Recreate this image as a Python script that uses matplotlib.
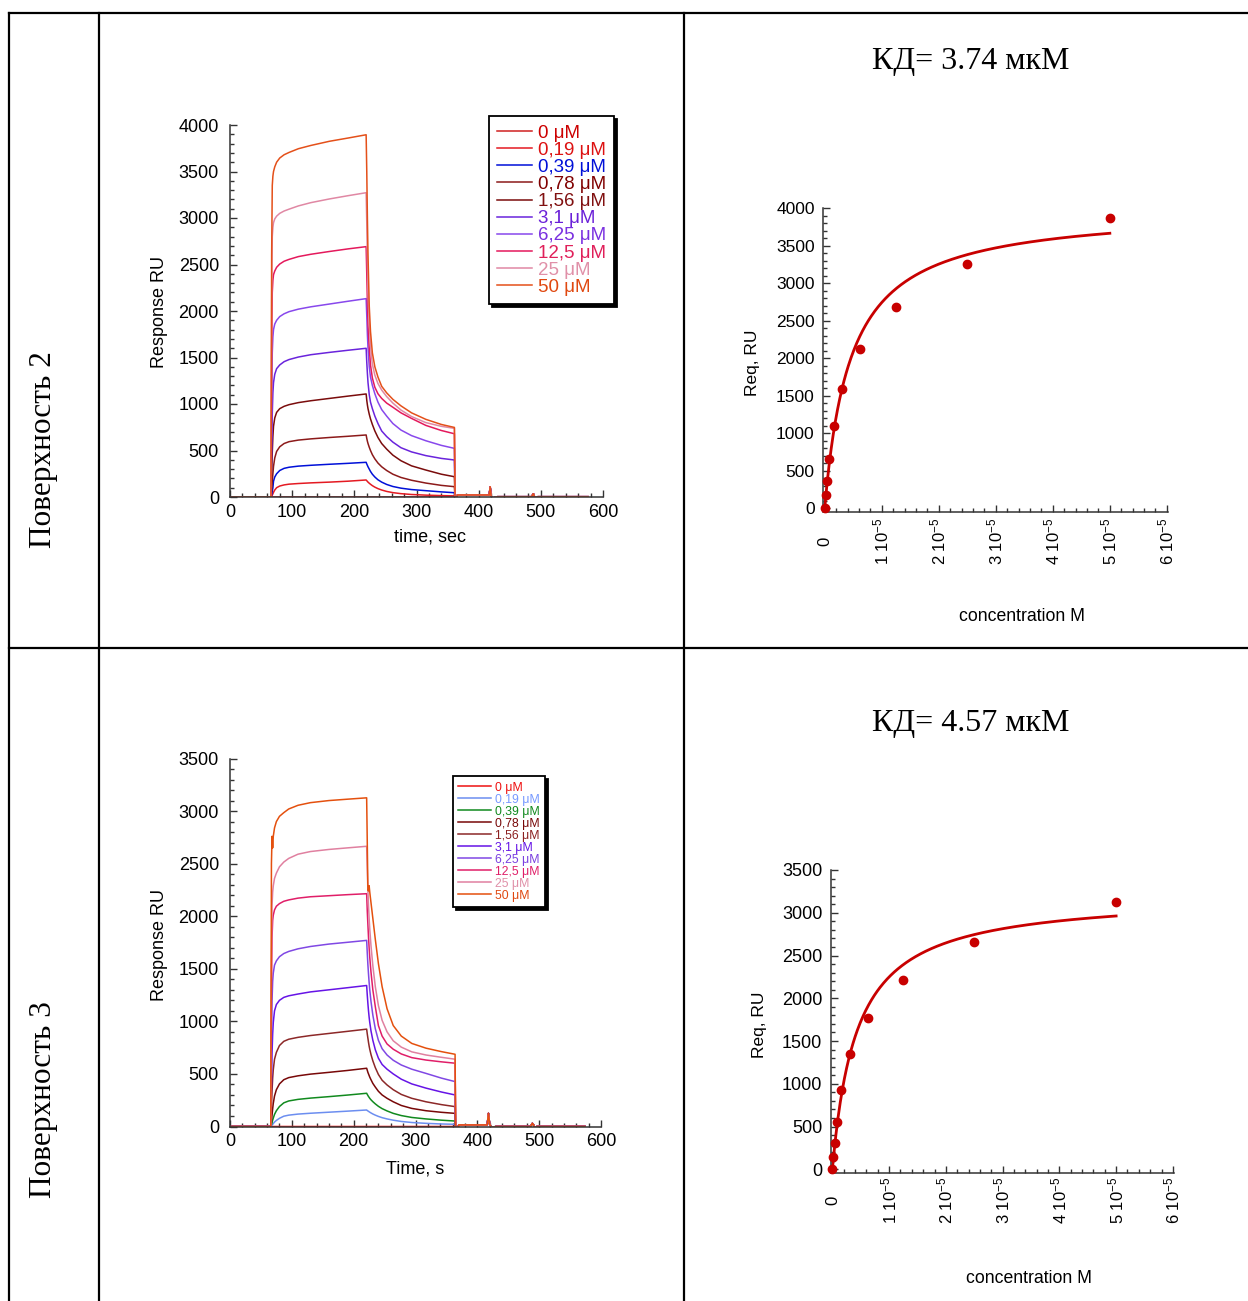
import matplotlib
matplotlib.use('Agg')
import matplotlib.pyplot as plt
from matplotlib.lines import Line2D
from matplotlib.ticker import MultipleLocator, FixedLocator
import numpy as np

plt.rcParams['font.family'] = ['Liberation Sans', 'DejaVu Sans']
plt.rcParams['mathtext.fontset'] = 'custom'
plt.rcParams['mathtext.rm'] = 'Liberation Sans'
plt.rcParams['mathtext.it'] = 'Liberation Sans:italic'
plt.rcParams['mathtext.bf'] = 'Liberation Sans:bold'

# ---------------- data ----------------
LABELS = ['0 \u03bcM', '0,19 \u03bcM', '0,39 \u03bcM', '0,78 \u03bcM', '1,56 \u03bcM',
          '3,1 \u03bcM', '6,25 \u03bcM', '12,5 \u03bcM', '25 \u03bcM', '50 \u03bcM']

# Surface 2 sensorgram (time s, response RU)
T_TOP = [0, 66, 67, 68, 69, 70, 72, 75, 80, 87, 95, 110, 130, 160, 190, 219,
         220, 221, 222, 224, 226, 229, 233, 238, 244, 252, 262, 275, 292, 315, 340, 361]
TOP_0 = [0, 0, 0, 0, 0, 0, 0, 0, 0, 0, 0, 0, 0, 0, 0, 0,
         0, 0, 0, 0, 0, 0, 0, 0, 0, 0, 0, 0, 0, 0, 0, 0]
TOP_019 = [0, 0, 8, 20, 35, 50, 75, 100, 118, 130, 138, 145, 152, 160, 170, 183,
           175, 168, 160, 148, 137, 122, 106, 90, 75, 60, 47, 36, 27, 20, 15, 12]
TOP_039 = [0, 0, 25, 60, 100, 170, 215, 250, 285, 308, 320, 332, 341, 352, 362, 373,
           355, 340, 325, 300, 275, 245, 215, 185, 160, 135, 113, 95, 80, 68, 55, 46]
TOP_078 = [0, 0, 80, 170, 250, 330, 420, 490, 540, 575, 595, 612, 625, 640, 653, 667,
           630, 600, 575, 535, 500, 455, 410, 365, 325, 285, 245, 210, 180, 150, 125, 111]
TOP_156 = [0, 0, 250, 480, 650, 760, 850, 910, 950, 975, 993, 1015, 1035, 1060, 1085, 1108,
           1040, 990, 950, 890, 840, 780, 710, 640, 575, 515, 450, 390, 335, 290, 245, 218]
TOP_31 = [0, 0, 500, 900, 1120, 1230, 1320, 1380, 1420, 1455, 1478, 1505, 1530, 1555, 1578, 1599,
          1450, 1330, 1230, 1100, 1020, 950, 870, 790, 710, 650, 590, 530, 485, 445, 415, 398]
TOP_625 = [0, 0, 1000, 1550, 1720, 1800, 1860, 1900, 1940, 1970, 1993, 2020, 2045, 2075, 2105, 2133,
           1950, 1750, 1600, 1400, 1290, 1200, 1110, 1020, 940, 870, 790, 720, 660, 605, 555, 523]
TOP_125 = [0, 0, 1600, 2200, 2330, 2390, 2430, 2470, 2505, 2535, 2555, 2585, 2610, 2640, 2668, 2692,
           2400, 2100, 1850, 1600, 1420, 1280, 1180, 1110, 1060, 1010, 965, 905, 845, 770, 715, 680]
TOP_25 = [0, 0, 2100, 2800, 2900, 2950, 2990, 3020, 3050, 3075, 3095, 3130, 3165, 3205, 3240, 3272,
          2950, 2550, 2200, 1850, 1620, 1430, 1310, 1220, 1150, 1080, 1010, 935, 865, 800, 760, 738]
TOP_50 = [0, 0, 2600, 3350, 3450, 3500, 3550, 3600, 3645, 3680, 3705, 3745, 3780, 3825, 3860, 3895,
          3500, 3000, 2600, 2050, 1780, 1550, 1400, 1290, 1190, 1120, 1050, 980, 905, 835, 780, 748]
POST_T_TOP = [362, 363, 366, 415, 417, 418.5, 420, 423, 430, 485, 488, 490, 492, 495, 576]
POST_V_TOP = [-30, -40, 22, 22, 20, 110, 10, -10, 3, 3, 35, 0, -20, 3, 3]

# Surface 3 sensorgram
T_BOT = [0, 66, 67, 68, 69, 70, 72, 75, 80, 87, 95, 110, 130, 160, 190, 221,
         222, 223, 224, 225, 226, 228, 231, 235, 240, 246, 254, 264, 277, 294, 317, 342, 364]
BOT_0 = [0, 0, 0, 0, 0, 0, 0, 0, 0, 0, 0, 0, 0, 0, 0, 0,
         0, 0, 0, 0, 0, 0, 0, 0, 0, 0, 0, 0, 0, 0, 0, 0, 0]
BOT_019 = [0, 0, 5, 12, 20, 28, 42, 58, 78, 98, 108, 118, 126, 136, 146, 157,
           152, 148, 144, 140, 136, 129, 119, 108, 96, 84, 72, 60, 48, 38, 30, 24, 21]
BOT_039 = [0, 0, 15, 35, 60, 80, 115, 150, 190, 225, 243, 258, 270, 284, 299, 316,
           305, 295, 285, 277, 268, 254, 236, 215, 192, 170, 148, 125, 104, 86, 72, 60, 52]
BOT_078 = [0, 0, 50, 110, 170, 220, 290, 350, 405, 445, 465, 482, 498, 515, 533, 554,
           535, 515, 500, 485, 470, 445, 410, 375, 335, 300, 268, 235, 200, 172, 150, 135, 125]
BOT_156 = [0, 0, 180, 340, 460, 540, 640, 705, 770, 810, 830, 848, 865, 885, 905, 926,
           880, 840, 800, 765, 735, 685, 625, 560, 495, 440, 395, 350, 305, 268, 235, 208, 189]
BOT_31 = [0, 0, 400, 700, 880, 990, 1100, 1160, 1200, 1228, 1243, 1260, 1280, 1300, 1320, 1341,
          1250, 1170, 1100, 1040, 990, 910, 820, 730, 650, 590, 545, 500, 450, 405, 365, 328, 300]
BOT_625 = [0, 0, 800, 1200, 1380, 1460, 1535, 1575, 1615, 1645, 1665, 1690, 1712, 1735, 1752, 1770,
           1650, 1540, 1450, 1370, 1300, 1190, 1060, 930, 820, 740, 680, 630, 585, 545, 505, 460, 427]
BOT_125 = [0, 0, 1300, 1800, 1960, 2010, 2060, 2095, 2120, 2142, 2155, 2172, 2185, 2195, 2205, 2214,
           2050, 1920, 1800, 1700, 1610, 1470, 1300, 1140, 960, 860, 785, 735, 690, 655, 632, 615, 602]
BOT_25 = [0, 0, 1600, 2100, 2230, 2290, 2360, 2410, 2470, 2515, 2550, 2590, 2615, 2635, 2650, 2665,
          2450, 2250, 2100, 1980, 1880, 1720, 1530, 1330, 1150, 1010, 900, 815, 755, 710, 680, 658, 640]
BOT_50 = [0, 0, 2500, 2760, 2650, 2760, 2840, 2900, 2950, 2985, 3020, 3055, 3080, 3100, 3113, 3126,
          2700, 2250, 2240, 2290, 2230, 2130, 1980, 1780, 1550, 1330, 1120, 960, 860, 790, 745, 712, 687]
POST_T_BOT = [365, 366, 370, 416, 418, 420, 423, 430, 486, 489, 491, 493, 496, 574]
POST_V_BOT = [-40, -60, 15, 15, 125, 20, -10, 0, 0, 30, 15, -30, 0, 0]

# Steady-state binding (isotherms)
CONC_UM = [0, 0.19, 0.39, 0.78, 1.56, 3.1, 6.25, 12.5, 25, 50]
REQ_TOP = [0, 175, 360, 655, 1100, 1586, 2117, 2675, 3252, 3871]
REQ_BOT = [0, 148, 311, 549, 927, 1345, 1773, 2213, 2661, 3125]
FIT_TOP = {'rmax': 4000, 'kd': 4.6e-6}
FIT_BOT = {'rmax': 3217, 'kd': 4.3e-6}
KD_TITLES = ['КД= 3.74 мкМ', 'КД= 4.57 мкМ']
SURFACES = ['Поверхность 2', 'Поверхность 3']

XTICK_LABELS = ['0', r'$\mathrm{1\ 10^{-5}}$', r'$\mathrm{2\ 10^{-5}}$', r'$\mathrm{3\ 10^{-5}}$',
                r'$\mathrm{4\ 10^{-5}}$', r'$\mathrm{5\ 10^{-5}}$', r'$\mathrm{6\ 10^{-5}}$']

# ---------------- styles ----------------
COL_TOP = ['#D02020', '#E41A22', '#0010D8', '#8C1A1A', '#7A0C0C', '#6A24DC', '#8848EC',
           '#E4195C', '#E088A4', '#E4501A']
TXT_TOP = ['#CC0000', '#DD1111', '#0010D8', '#800000', '#801010', '#6A20D8', '#7A30E0',
           '#E0205A', '#E090A8', '#E04810']
COL_BOT = ['#EE1111', '#6C8EF0', '#118A1E', '#780808', '#8C2828', '#6614E6', '#8048E4',
           '#E01E68', '#E080A0', '#E4500E']
TXT_BOT = ['#EE1111', '#7799FF', '#118A1E', '#780808', '#8C2020', '#6614E6', '#7A40E0',
           '#E01E68', '#E090A8', '#E04810']
RED = '#C80000'
W, H = 1248, 1301


def fx(x):
    return x / W


def fy(y):
    return 1 - y / H


fig = plt.figure(figsize=(W / 100, H / 100), dpi=100)

# table grid
for (x0, y0, x1, y1) in [(9, 13, 1248, 13), (9, 648, 1248, 648), (9, 13, 9, 1301),
                         (99, 13, 99, 1301), (684, 13, 684, 1301)]:
    fig.add_artist(Line2D([fx(x0), fx(x1)], [fy(y0), fy(y1)], transform=fig.transFigure,
                          color='black', lw=1.6))


def style_axes(ax, fs):
    for s in ['top', 'right']:
        ax.spines[s].set_visible(False)
    for s in ['left', 'bottom']:
        ax.spines[s].set_color('#333333')
        ax.spines[s].set_linewidth(1.1)
    ax.tick_params(which='both', direction='in', colors='#333333', labelcolor='black',
                   labelsize=fs, width=1.0)
    ax.tick_params(which='major', length=5)
    ax.tick_params(which='minor', length=3)


def sensorgram(px, T, curves, post_t, post_v, colors, txtcols, ymax, xlabel, xl_pos, yl_pos,
               leg_anchor, leg_fs, leg_hl, leg_ls):
    x0, y0, x1, y1 = px
    ax = fig.add_axes([fx(x0), fy(y1), (x1 - x0) / W, (y1 - y0) / H])
    for vals, c, lab in zip(curves, colors, LABELS):
        ax.plot(list(T) + post_t, list(vals) + post_v, color=c, lw=1.1, label=lab)
    ax.set_xlim(0, 600)
    ax.set_ylim(0, ymax)
    ax.xaxis.set_major_locator(MultipleLocator(100))
    ax.xaxis.set_minor_locator(MultipleLocator(20))
    ax.yaxis.set_major_locator(MultipleLocator(500))
    ax.yaxis.set_minor_locator(MultipleLocator(100))
    style_axes(ax, 13)
    ax.tick_params(axis='y', pad=8)
    ax.tick_params(axis='x', pad=5)
    ax.set_ylabel('Response RU', fontsize=13)
    ax.yaxis.set_label_coords(*yl_pos)
    ax.set_xlabel(xlabel, fontsize=13)
    ax.xaxis.set_label_coords(*xl_pos)
    leg = ax.legend(loc='upper left', bbox_to_anchor=leg_anchor, borderaxespad=0,
                    fontsize=leg_fs, labelspacing=leg_ls, handlelength=leg_hl,
                    handletextpad=0.3, borderpad=0.45, fancybox=False, framealpha=1,
                    edgecolor='black',
                    shadow={'facecolor': 'black', 'edgecolor': 'black', 'alpha': 1.0})
    leg.get_frame().set_linewidth(1.3)
    for t, c in zip(leg.get_texts(), txtcols):
        t.set_color(c)
    return ax


def isotherm(px, req, fit, ymax, ymin, pad, xl_pos, yl_pos, fs):
    x0, y0, x1, y1 = px
    ax = fig.add_axes([fx(x0), fy(y1), (x1 - x0) / W, (y1 - y0) / H])
    conc_m = np.array(CONC_UM) * 1e-6
    cfit = np.linspace(0, conc_m.max(), 400)
    ax.plot(cfit, fit['rmax'] * cfit / (fit['kd'] + cfit), color=RED, lw=2.0, clip_on=False)
    ax.plot(conc_m, req, 'o', color=RED, ms=6, clip_on=False, zorder=5)
    ax.set_xlim(-0.03e-5, 6.02e-5)
    ax.set_ylim(ymin, ymax)
    ax.xaxis.set_major_locator(FixedLocator([i * 1e-5 for i in range(7)]))
    ax.xaxis.set_minor_locator(MultipleLocator(2e-6))
    ax.yaxis.set_major_locator(MultipleLocator(500))
    ax.yaxis.set_minor_locator(MultipleLocator(100))
    style_axes(ax, fs)
    ax.set_xticklabels(XTICK_LABELS, rotation=90, va='center', ha='center', fontsize=12)
    ax.tick_params(axis='x', pad=pad)
    ax.tick_params(axis='y', pad=6)
    ax.set_ylabel('Req, RU', fontsize=12.5)
    ax.yaxis.set_label_coords(*yl_pos)
    ax.set_xlabel('concentration M', fontsize=12.7)
    ax.xaxis.set_label_coords(*xl_pos)
    ax.spines['left'].set_bounds(0, ymax)
    return ax


sensorgram((230, 125, 603, 497), T_TOP,
           [TOP_0, TOP_019, TOP_039, TOP_078, TOP_156, TOP_31, TOP_625, TOP_125, TOP_25, TOP_50],
           POST_T_TOP, POST_V_TOP, COL_TOP, TXT_TOP, 4000, 'time, sec',
           (0.536, -0.085), (-0.165, 0.497), (0.694, 1.024), 13.5, 1.85, 0.0)

sensorgram((230, 758.5, 601, 1126.5), T_BOT,
           [BOT_0, BOT_019, BOT_039, BOT_078, BOT_156, BOT_31, BOT_625, BOT_125, BOT_25, BOT_50],
           POST_T_BOT, POST_V_BOT, COL_BOT, TXT_BOT, 3500, 'Time, s',
           (0.50, -0.092), (-0.168, 0.493), (0.601, 0.952), 8.8, 2.7, 0.0)

isotherm((823, 208, 1168, 512), REQ_TOP, FIT_TOP, 4000, -53, 21,
         (0.578, -0.315), (-0.183, 0.49), 12.5)
isotherm((830.7, 870, 1174, 1173), REQ_BOT, FIT_BOT, 3500, -43, 19.5,
         (0.579, -0.32), (-0.186, 0.49), 13)

for y, t in zip([61, 723], KD_TITLES):
    fig.text(fx(971), fy(y), t, family=['Liberation Serif', 'DejaVu Serif'], fontsize=23,
             ha='center', va='center')
for y, t in zip([450, 1100], SURFACES):
    fig.text(fx(44), fy(y), t, family=['Liberation Serif', 'DejaVu Serif'], fontsize=22.5,
             rotation=90, ha='center', va='center')

fig.savefig('out.png', dpi=100)
